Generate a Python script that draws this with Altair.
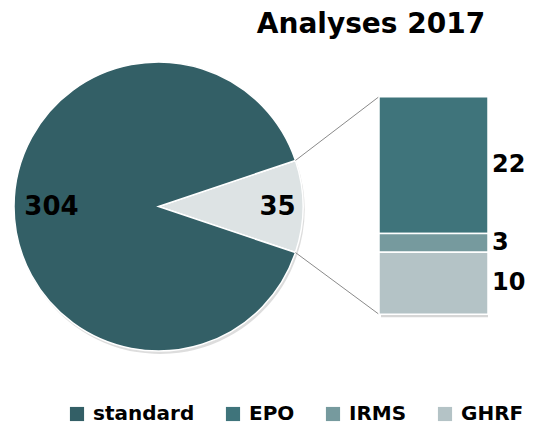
import math
import pandas as pd
import altair as alt

# ---- data ----
title_text = ["Analyses 2017"]
pie_categories = ["autres", "standard"]
pie_values = [35, 304]
bar_categories = ["EPO", "IRMS", "GHRF"]
bar_values = [22, 3, 10]
legend_labels = ["standard", "EPO", "IRMS", "GHRF"]
color_domain = ["standard", "EPO", "IRMS", "GHRF", "autres"]
color_range = ["#335F66", "#3F747B", "#769A9E", "#B4C3C6", "#DDE3E4"]

# ---- geometry (styles / layout) ----
W, H = 518, 417
CX, CY, R = 150.5, 198.5, 144.5
BAR_LEFT, BAR_RIGHT = 371, 480
BAR_TOP, BAR_BOTTOM = 88.7, 306.3
FONT = "DejaVu Sans"

total = sum(pie_values)
half = math.pi * pie_values[0] / total
a0 = math.pi / 2 - half

pie_df = pd.DataFrame({"cat": pie_categories, "value": pie_values,
                       "ord": list(range(len(pie_values)))})
bar_df = pd.DataFrame({"cat": bar_categories, "value": bar_values,
                       "ord": list(range(len(bar_values)))})

color_scale = alt.Scale(domain=color_domain, range=color_range)
legend = alt.Legend(values=legend_labels, orient="none", legendX=59, legendY=396,
                    direction="horizontal", columns=4, title=None,
                    symbolType="square", symbolSize=200, symbolStrokeWidth=0,
                    symbolOpacity=1, labelFont=FONT, labelFontWeight="bold",
                    labelFontSize=20, labelColor="black", columnPadding=28,
                    labelOffset=6, labelLimit=300)
color = alt.Color("cat:N", scale=color_scale, legend=legend)

theta_scale = alt.Scale(domain=[0, total], range=[a0, a0 + 2 * math.pi], nice=False)

pie_stacked = alt.Chart(pie_df).transform_stack(
    stack="value", as_=["t0", "t1"], groupby=[],
    sort=[alt.SortField("ord", order="ascending")]).transform_calculate(
    tmid="(datum.t0 + datum.t1) / 2",
    r="datum.cat == 'standard' ? 107 : 119")

pie_shadow = pie_stacked.mark_arc(radius=R, color="#cfcfcf", opacity=0.7).encode(
    theta=alt.Theta("t0:Q", scale=theta_scale), theta2="t1:Q",
    x=alt.value(CX + 1.5), y=alt.value(CY + 3))

pie = pie_stacked.mark_arc(radius=R, stroke="white", strokeWidth=1.5).encode(
    theta=alt.Theta("t0:Q", scale=theta_scale), theta2="t1:Q",
    color=color, x=alt.value(CX), y=alt.value(CY))

pie_labels = pie_stacked.mark_text(
    font=FONT, fontWeight="bold", fontSize=26, color="black",
    align="center", baseline="middle").encode(
    theta=alt.Theta("tmid:Q", scale=theta_scale),
    radius=alt.Radius("r:Q", scale=None),
    text="value:Q", x=alt.value(CX), y=alt.value(CY))

y_scale = alt.Scale(domain=[0, sum(bar_values)], range=[BAR_BOTTOM, BAR_TOP], nice=False)

stacked = alt.Chart(bar_df).transform_stack(
    stack="value", as_=["y0", "y1"], groupby=[],
    sort=[alt.SortField("ord", order="descending")]).transform_calculate(
    mid="(datum.y0 + datum.y1) / 2")

bar_shadow = stacked.mark_rect(color="#cccccc", opacity=0.8, xOffset=2, yOffset=3).encode(
    x=alt.value(BAR_LEFT), x2=alt.value(BAR_RIGHT),
    y=alt.Y("y0:Q", scale=y_scale, axis=None), y2="y1:Q")

bar = stacked.mark_rect(stroke="white", strokeWidth=1.5).encode(
    x=alt.value(BAR_LEFT), x2=alt.value(BAR_RIGHT),
    y=alt.Y("y0:Q", scale=y_scale, axis=None), y2="y1:Q",
    color=color)

bar_labels = stacked.mark_text(
    font=FONT, fontWeight="bold", fontSize=24, color="black",
    align="left", baseline="middle").encode(
    x=alt.value(BAR_LEFT + 113), y=alt.Y("mid:Q", scale=y_scale, axis=None),
    text="value:Q")

# connector lines from slice edges to bar corners
px = CX + R * math.cos(half)
lines_df = pd.DataFrame({
    "x": [px, px], "y": [CY - R * math.sin(half), CY + R * math.sin(half)],
    "x2": [BAR_LEFT, BAR_LEFT], "y2": [BAR_TOP, BAR_BOTTOM]})
connectors = alt.Chart(lines_df).mark_rule(color="#8a8a8a", strokeWidth=1).encode(
    x=alt.X("x:Q", scale=None), y=alt.Y("y:Q", scale=None),
    x2="x2:Q", y2="y2:Q")

title = alt.Chart(pd.DataFrame({"t": title_text})).mark_text(
    font=FONT, fontWeight="bold", fontSize=28, color="black",
    align="center", baseline="middle").encode(
    x=alt.value(363), y=alt.value(17), text="t:N")

chart = alt.layer(pie_shadow, pie, pie_labels, connectors, bar_shadow, bar,
                  bar_labels, title).properties(
    width=W, height=H, autosize=alt.AutoSizeParams(type="none"), padding=0,
    background="white").configure_view(stroke=None)

chart.save("out.html", embed_options={"renderer": "svg", "actions": False})
